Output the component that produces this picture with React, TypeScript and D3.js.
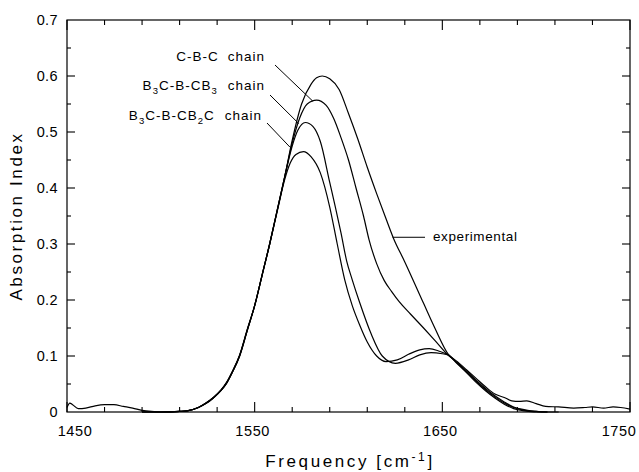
import React, { useEffect, useRef } from "react";
import * as d3 from "d3";

// frequency [cm-1] / absorption index
const expFreq = [1450, 1451.5, 1453, 1456, 1460, 1465, 1470, 1475, 1480, 1485, 1490, 1495, 1500, 1505, 1510, 1514, 1520, 1524, 1528, 1532, 1535, 1538, 1542, 1546, 1550, 1554, 1558, 1562, 1566, 1570, 1575, 1580, 1583, 1586, 1590, 1595, 1600, 1605, 1610, 1615, 1620, 1624, 1630, 1640, 1646, 1653, 1658, 1663, 1668, 1673, 1678, 1683, 1687, 1691, 1695, 1700, 1705, 1712, 1720, 1726, 1730, 1736, 1741, 1745, 1750];
const expVal = [0.008, 0.016, 0.013, 0.006, 0.007, 0.011, 0.013, 0.013, 0.01, 0.007, 0.003, 0.001, 0, 0, 0.001, 0.002, 0.008, 0.015, 0.025, 0.038, 0.051, 0.07, 0.1, 0.145, 0.19, 0.245, 0.3, 0.36, 0.42, 0.485, 0.55, 0.585, 0.597, 0.6, 0.595, 0.576, 0.533, 0.487, 0.437, 0.39, 0.345, 0.31, 0.268, 0.194, 0.15, 0.104, 0.09, 0.075, 0.06, 0.045, 0.032, 0.026, 0.02, 0.019, 0.02, 0.015, 0.01, 0.009, 0.007, 0.008, 0.009, 0.007, 0.009, 0.008, 0.005];

const cbcFreq = [1490, 1500, 1510, 1514, 1520, 1524, 1528, 1532, 1535, 1538, 1542, 1546, 1550, 1554, 1558, 1562, 1566, 1570, 1574, 1578, 1583, 1588, 1592, 1596, 1600, 1604, 1608, 1611, 1615, 1619, 1623, 1627, 1633, 1640, 1646, 1653, 1658, 1663, 1668, 1673, 1678, 1683, 1688, 1694, 1700, 1706, 1712];
const cbcVal = [0, 0, 0.001, 0.002, 0.008, 0.015, 0.025, 0.038, 0.051, 0.07, 0.1, 0.145, 0.19, 0.245, 0.3, 0.36, 0.42, 0.48, 0.525, 0.55, 0.557, 0.548, 0.525, 0.49, 0.45, 0.4, 0.35, 0.307, 0.265, 0.235, 0.215, 0.197, 0.175, 0.15, 0.128, 0.102, 0.088, 0.073, 0.057, 0.042, 0.029, 0.018, 0.009, 0.004, 0.001, 0, 0];

const cb3Freq = [1490, 1500, 1510, 1514, 1520, 1524, 1528, 1532, 1535, 1538, 1542, 1546, 1550, 1554, 1558, 1562, 1566, 1570, 1573, 1577, 1581, 1585, 1590, 1593, 1596, 1599, 1602, 1606, 1612, 1618, 1625, 1632, 1638, 1644, 1650, 1653, 1658, 1663, 1668, 1673, 1678, 1683, 1688, 1694, 1700, 1706];
const cb3Val = [0, 0, 0.001, 0.002, 0.008, 0.016, 0.026, 0.039, 0.052, 0.071, 0.101, 0.146, 0.19, 0.245, 0.3, 0.36, 0.42, 0.475, 0.503, 0.517, 0.51, 0.483, 0.41, 0.366, 0.32, 0.27, 0.236, 0.195, 0.14, 0.1, 0.087, 0.093, 0.102, 0.106, 0.104, 0.102, 0.087, 0.071, 0.055, 0.04, 0.027, 0.016, 0.008, 0.003, 0.001, 0];

const cb2cFreq = [1490, 1500, 1510, 1514, 1520, 1524, 1528, 1532, 1535, 1538, 1542, 1546, 1550, 1554, 1558, 1562, 1566, 1569, 1572, 1576, 1580, 1585, 1590, 1594, 1598, 1602, 1606, 1610, 1615, 1620, 1626, 1632, 1638, 1643, 1648, 1653, 1658, 1663, 1668, 1673, 1678, 1683, 1688, 1694, 1700, 1706];
const cb2cVal = [0, 0, 0.001, 0.002, 0.008, 0.016, 0.026, 0.039, 0.053, 0.072, 0.102, 0.147, 0.19, 0.245, 0.3, 0.358, 0.415, 0.445, 0.46, 0.465, 0.456, 0.427, 0.366, 0.3, 0.236, 0.19, 0.155, 0.125, 0.1, 0.09, 0.093, 0.103, 0.111, 0.113, 0.109, 0.102, 0.086, 0.07, 0.053, 0.038, 0.025, 0.014, 0.006, 0.002, 0, 0];

const xTickLabels = [1450, 1550, 1650, 1750];
const yTickLabels = [0, 0.1, 0.2, 0.3, 0.4, 0.5, 0.6, 0.7];

export default function App() {
    const svgRef = useRef<SVGSVGElement>(null);

    useEffect(() => {
        const svg = d3.select(svgRef.current);
        svg.selectAll("*").remove();

        const width = 639;
        const height = 472;
        const margin = { top: 20, right: 9, bottom: 60, left: 67 };
        const font = "'Liberation Sans', Arial, sans-serif";

        const x = d3.scaleLinear().domain([1450, 1750]).range([margin.left, width - margin.right]);
        const y = d3.scaleLinear().domain([0, 0.7]).range([height - margin.bottom, margin.top]);
        const x0 = x.range()[0], x1 = x.range()[1];
        const y0 = y.range()[0], y1 = y.range()[1];

        //frame
        svg.append("rect")
            .attr("x", x0).attr("y", y1)
            .attr("width", x1 - x0).attr("height", y0 - y1)
            .attr("fill", "none").attr("stroke", "#000").attr("stroke-width", 1.2);

        //inward ticks on all four sides
        const xMinor = d3.range(1450, 1751, 20).filter((v) => (v - 1450) % 100 !== 0);
        const xMajor = d3.range(1450, 1751, 100);
        const yMinor = d3.range(0.05, 0.7, 0.1);
        const yMajor = d3.range(0.1, 0.65, 0.1);

        const ticks = svg.append("g").attr("stroke", "#000").attr("stroke-width", 1.1);
        [...xMinor.map((v) => [v, 5]), ...xMajor.map((v) => [v, 10])].forEach(([v, len]) => {
            ticks.append("line").attr("x1", x(v)).attr("x2", x(v)).attr("y1", y0).attr("y2", y0 - len);
            ticks.append("line").attr("x1", x(v)).attr("x2", x(v)).attr("y1", y1).attr("y2", y1 + len);
        });
        [...yMinor.map((v) => [v, 4]), ...yMajor.map((v) => [v, 8])].forEach(([v, len]) => {
            ticks.append("line").attr("y1", y(v)).attr("y2", y(v)).attr("x1", x0).attr("x2", x0 + len);
            ticks.append("line").attr("y1", y(v)).attr("y2", y(v)).attr("x1", x1).attr("x2", x1 - len);
        });

        //tick labels (end labels nudged inward like the original)
        const nudge = (d: number) => (d === 1450 ? 8 : d === 1750 ? -11 : -2);
        svg.append("g").selectAll("text").data(xTickLabels).join("text")
            .attr("x", (d) => x(d) + nudge(d)).attr("y", y0 + 24)
            .attr("text-anchor", "middle")
            .attr("font-family", font).attr("font-size", 14.5).attr("letter-spacing", 0.6)
            .text((d) => String(d));

        svg.append("g").selectAll("text").data(yTickLabels).join("text")
            .attr("x", x0 - 9).attr("y", (d) => y(d) + 5)
            .attr("text-anchor", "end")
            .attr("font-family", font).attr("font-size", 14.5).attr("letter-spacing", 0.4)
            .text((d) => (d === 0 ? "0" : d.toFixed(1)));

        //axis titles
        svg.append("text")
            .attr("transform", `translate(22,${(y0 + y1) / 2}) rotate(-90)`)
            .attr("text-anchor", "middle")
            .attr("font-family", font).attr("font-size", 17).attr("letter-spacing", 2.6)
            .text("Absorption Index");

        const xt = svg.append("text")
            .attr("x", 350).attr("y", height - 5)
            .attr("text-anchor", "middle")
            .attr("font-family", font).attr("font-size", 17).attr("letter-spacing", 2.6);
        xt.append("tspan").text("Frequency [cm");
        xt.append("tspan").attr("dy", -6).attr("font-size", 12).text("-1");
        xt.append("tspan").attr("dy", 6).text("]");

        //curves
        const line = d3.line<[number, number]>()
            .x((d) => x(d[0]))
            .y((d) => y(d[1]))
            .curve(d3.curveMonotoneX);

        const series = [
            [expFreq, expVal],
            [cbcFreq, cbcVal],
            [cb3Freq, cb3Val],
            [cb2cFreq, cb2cVal],
        ];
        series.forEach(([fs, vs]) => {
            svg.append("path")
                .datum(fs.map((f, i) => [f, vs[i]] as [number, number]))
                .attr("d", line)
                .attr("fill", "none")
                .attr("stroke", "#000")
                .attr("stroke-width", 1.2);
        });

        //annotation labels with pointer lines
        const labelG = svg.append("g").attr("font-family", font).attr("font-size", 13.5).attr("letter-spacing", 1);
        const pointer = (fx: number, vx: number, px: number, py: number) =>
            svg.append("line")
                .attr("x1", px).attr("y1", py)
                .attr("x2", x(fx)).attr("y2", y(vx))
                .attr("stroke", "#000").attr("stroke-width", 1);

        const t1 = labelG.append("text").attr("x", 265).attr("y", 61).attr("text-anchor", "end");
        t1.append("tspan").text("C-B-C");
        t1.append("tspan").attr("dx", 9).text("chain");
        pointer(1581, 0.555, 275, 65);

        const t2 = labelG.append("text").attr("x", 265).attr("y", 90).attr("text-anchor", "end");
        t2.append("tspan").text("B");
        t2.append("tspan").attr("dy", 4).attr("font-size", 9.5).text("3");
        t2.append("tspan").attr("dy", -4).text("C-B-CB");
        t2.append("tspan").attr("dy", 4).attr("font-size", 9.5).text("3");
        t2.append("tspan").attr("dy", -4).attr("dx", 10).text("chain");
        pointer(1573.5, 0.515, 270, 95);

        const t3 = labelG.append("text").attr("x", 262).attr("y", 120).attr("text-anchor", "end");
        t3.append("tspan").text("B");
        t3.append("tspan").attr("dy", 4).attr("font-size", 9.5).text("3");
        t3.append("tspan").attr("dy", -4).text("C-B-CB");
        t3.append("tspan").attr("dy", 4).attr("font-size", 9.5).text("2");
        t3.append("tspan").attr("dy", -4).text("C");
        t3.append("tspan").attr("dx", 10).text("chain");
        pointer(1568.8, 0.473, 267, 123);

        labelG.append("text").attr("x", 433).attr("y", 241).attr("letter-spacing", 0.6).text("experimental");
        svg.append("line")
            .attr("x1", x(1623.5)).attr("y1", y(0.312))
            .attr("x2", 425).attr("y2", y(0.312))
            .attr("stroke", "#000").attr("stroke-width", 1);
    }, []);

    return (
        <div>
            {/*chart*/}
            <svg ref={svgRef} width={639} height={472}
                style={{ position: "absolute", left: 0, top: 0, background: "#fff" }}></svg>
        </div>
    );
}
